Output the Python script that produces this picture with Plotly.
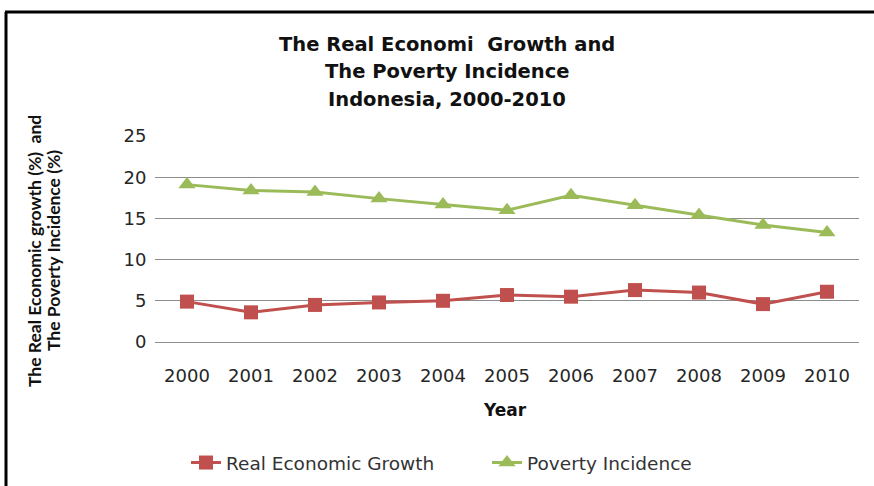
import plotly.graph_objects as go

years = ["2000", "2001", "2002", "2003", "2004", "2005", "2006", "2007", "2008", "2009", "2010"]
growth = [4.9, 3.6, 4.5, 4.8, 5.0, 5.7, 5.5, 6.3, 6.0, 4.6, 6.1]
poverty = [19.1, 18.4, 18.2, 17.4, 16.7, 16.0, 17.8, 16.6, 15.4, 14.2, 13.3]
y_ticks = [0, 5, 10, 15, 20, 25]

FONT = "DejaVu Sans"
W, H = 874, 486
L, R, T, B = 155, 15, 136, 144
pw, ph = W - L - R, H - T - B


def px(x):
    return (x - L) / pw


def py(y):
    return (H - B - y) / ph


fig = go.Figure()
fig.add_trace(go.Scatter(
    x=years, y=growth, name="Real Economic Growth", mode="lines+markers",
    line=dict(color="#C0504D", width=3),
    marker=dict(symbol="square", size=14, color="#C0504D"),
))
fig.add_trace(go.Scatter(
    x=years, y=poverty, name="Poverty Incidence", mode="lines+markers",
    line=dict(color="#9BBB59", width=3),
    marker=dict(symbol="triangle-up", size=15, color="#9BBB59"),
))

fig.update_layout(
    width=W, height=H,
    margin=dict(l=L, r=R, t=T, b=B, autoexpand=False),
    paper_bgcolor="white", plot_bgcolor="white",
    font=dict(family=FONT, size=17, color="#262626"),
    showlegend=True,
    legend=dict(orientation="h", x=px(186), y=py(463), xanchor="left", yanchor="middle",
                font=dict(family=FONT, size=18.5, color="#333333"),
                itemwidth=30, tracegroupgap=0,
                entrywidth=256, entrywidthmode="pixels"),
    xaxis=dict(type="category", range=[-0.5, 10.5], showgrid=False,
               showline=True, linecolor="#8c8c8c", linewidth=1, zeroline=False,
               ticks="outside", ticklen=17, tickcolor="rgba(0,0,0,0)",
               tickfont=dict(family=FONT, size=18, color="#262626")),
    yaxis=dict(range=[0, 25], tickvals=y_ticks, showgrid=True, gridcolor="#8c8c8c",
               gridwidth=1, zeroline=False, showline=False,
               ticks="outside", ticklen=4, tickcolor="rgba(0,0,0,0)",
               tickfont=dict(family=FONT, size=18, color="#262626")),
)

title_lines = ["The Real Economi  Growth and", "The Poverty Incidence", "Indonesia, 2000-2010"]
for i, t in enumerate(title_lines):
    fig.add_annotation(text="<b>" + t + "</b>", xref="paper", yref="paper",
                       x=px(447), y=py(44 + 27.5 * i), showarrow=False,
                       xanchor="center", yanchor="middle",
                       font=dict(family=FONT, size=19.5, color="#111111"))

fig.add_annotation(text="<b>The Real Economic growth (%)  and</b>", xref="paper", yref="paper",
                   x=px(34), y=py(251), showarrow=False, textangle=-90,
                   xanchor="center", yanchor="middle",
                   font=dict(family="Lato", size=17.5, color="#111111"))
fig.add_annotation(text="<b>The Poverty Incidence (%)</b>", xref="paper", yref="paper",
                   x=px(53), y=py(251), showarrow=False, textangle=-90,
                   xanchor="center", yanchor="middle",
                   font=dict(family="Lato", size=17.5, color="#111111"))
fig.add_annotation(text="<b>Year</b>", xref="paper", yref="paper",
                   x=px(505), y=py(410), showarrow=False,
                   xanchor="center", yanchor="middle",
                   font=dict(family=FONT, size=17, color="#111111"))

# outer frame (left and top edges visible)
fig.add_shape(type="line", xref="paper", yref="paper",
              x0=px(6), y0=py(12), x1=px(6), y1=py(490), line=dict(color="black", width=3))
fig.add_shape(type="line", xref="paper", yref="paper",
              x0=px(5), y0=py(12), x1=px(880), y1=py(12), line=dict(color="black", width=3))

fig.write_html("out.html")
